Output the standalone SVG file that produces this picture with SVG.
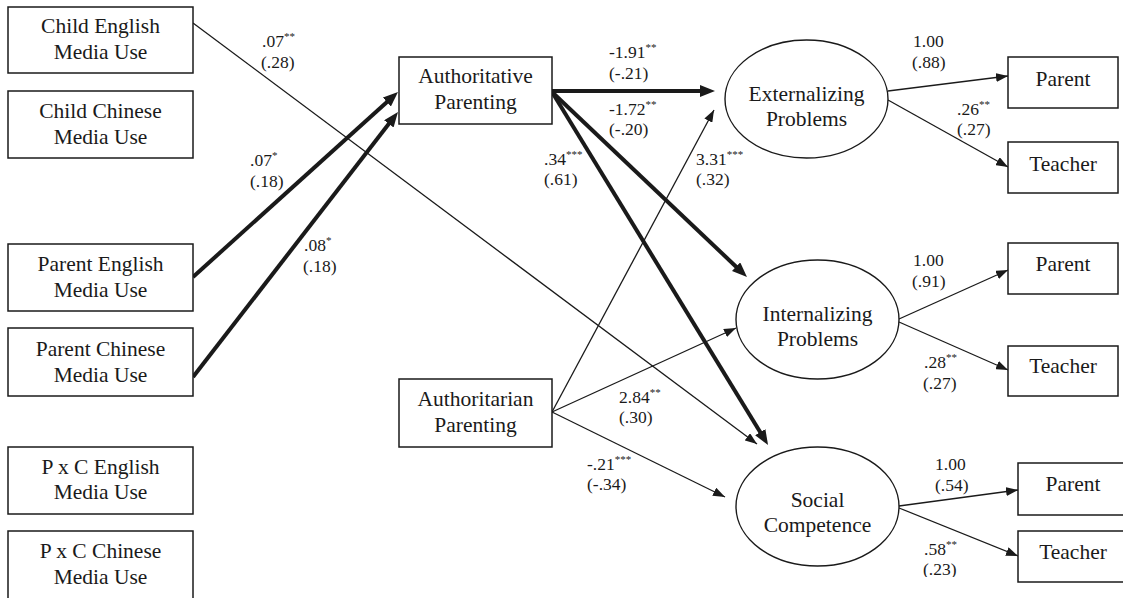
<svg xmlns="http://www.w3.org/2000/svg" width="1123" height="598" viewBox="0 0 1123 598">
<style>
.box{fill:#fff;stroke:#1a1a1a;stroke-width:1.5}
.ell{fill:#fff;stroke:#1a1a1a;stroke-width:1.4}
.nt{font-family:'Liberation Serif',Tinos,'Times New Roman','DejaVu Serif',serif;font-size:21.5px;fill:#1a1a1a;text-anchor:middle}
.lb{font-family:'Liberation Serif',Tinos,'Times New Roman','DejaVu Serif',serif;font-size:17.5px;fill:#1a1a1a}
.sup{font-size:11px}
.thin{stroke:#1a1a1a;stroke-width:1.3;fill:none;marker-end:url(#aThin)}
.thick{stroke:#1a1a1a;stroke-width:4;fill:none;marker-end:url(#aThick)}
</style>
<defs>
<marker id="aThin" markerUnits="userSpaceOnUse" markerWidth="12" markerHeight="9" refX="12" refY="4.5" orient="auto"><path d="M0,0 L12,4.5 L0,9 z" fill="#1a1a1a"/></marker>
<marker id="aThick" markerUnits="userSpaceOnUse" markerWidth="15" markerHeight="12" refX="8" refY="6" orient="auto"><path d="M0,0 L15,6 L0,12 z" fill="#1a1a1a"/></marker>
<clipPath id="clipBottom"><rect x="0" y="0" width="1123" height="577"/></clipPath>
</defs>
<rect width="1123" height="598" fill="#fff"/>

<g id="connectors">
<line class="thin" x1="193" y1="23" x2="757" y2="444"/>
<line class="thick" x1="193" y1="277" x2="392.8" y2="96.7"/>
<line class="thick" x1="193" y1="377" x2="393.7" y2="117.5"/>
<line class="thick" x1="552" y1="91" x2="708" y2="91"/>
<line class="thick" x1="552" y1="92" x2="741.9" y2="272.2"/>
<line class="thick" x1="552" y1="92" x2="764.4" y2="439"/>
<line class="thin" x1="552" y1="412" x2="714" y2="110"/>
<line class="thin" x1="552" y1="412" x2="736" y2="328"/>
<line class="thin" x1="552" y1="412" x2="725" y2="497"/>
<line class="thin" x1="888" y1="91" x2="1008" y2="76"/>
<line class="thin" x1="888" y1="100" x2="1008" y2="167"/>
<line class="thin" x1="899" y1="319" x2="1008" y2="270"/>
<line class="thin" x1="899" y1="322" x2="1008" y2="370"/>
<line class="thin" x1="899" y1="506" x2="1018" y2="490"/>
<line class="thin" x1="899" y1="508" x2="1018" y2="556"/>
</g>

<g id="labels">
<text class="lb"><tspan x="262" y="47">.07<tspan class="sup" dy="-7">**</tspan></tspan><tspan x="261" y="68">(.28)</tspan></text>
<text class="lb"><tspan x="250" y="166">.07<tspan class="sup" dy="-7">*</tspan></tspan><tspan x="250" y="187">(.18)</tspan></text>
<text class="lb"><tspan x="304" y="251">.08<tspan class="sup" dy="-7">*</tspan></tspan><tspan x="303" y="272">(.18)</tspan></text>
<text class="lb"><tspan x="609" y="58">-1.91<tspan class="sup" dy="-7">**</tspan></tspan><tspan x="609" y="79">(-.21)</tspan></text>
<text class="lb"><tspan x="609" y="115">-1.72<tspan class="sup" dy="-7">**</tspan></tspan><tspan x="609" y="135">(-.20)</tspan></text>
<text class="lb"><tspan x="544" y="165">.34<tspan class="sup" dy="-7">***</tspan></tspan><tspan x="544" y="185">(.61)</tspan></text>
<text class="lb"><tspan x="696" y="165">3.31<tspan class="sup" dy="-7">***</tspan></tspan><tspan x="696" y="185">(.32)</tspan></text>
<text class="lb"><tspan x="619" y="403">2.84<tspan class="sup" dy="-7">**</tspan></tspan><tspan x="619" y="423">(.30)</tspan></text>
<text class="lb"><tspan x="587" y="470">-.21<tspan class="sup" dy="-7">***</tspan></tspan><tspan x="587" y="490">(-.34)</tspan></text>
<text class="lb"><tspan x="913" y="47">1.00</tspan><tspan x="912" y="68">(.88)</tspan></text>
<text class="lb"><tspan x="957" y="115">.26<tspan class="sup" dy="-7">**</tspan></tspan><tspan x="957" y="135">(.27)</tspan></text>
<text class="lb"><tspan x="913" y="266">1.00</tspan><tspan x="912" y="287">(.91)</tspan></text>
<text class="lb"><tspan x="924" y="368">.28<tspan class="sup" dy="-7">**</tspan></tspan><tspan x="923" y="389">(.27)</tspan></text>
<text class="lb"><tspan x="935" y="470">1.00</tspan><tspan x="935" y="491">(.54)</tspan></text>
<text class="lb" clip-path="url(#clipBottom)"><tspan x="924" y="555">.58<tspan class="sup" dy="-7">**</tspan></tspan><tspan x="923" y="575">(.23)</tspan></text>
</g>

<g id="child-english"><rect class="box" x="8" y="7" width="185" height="66"/><text class="nt"><tspan x="100.5" y="33">Child English</tspan><tspan x="100.5" y="59">Media Use</tspan></text></g>
<g id="child-chinese"><rect class="box" x="8" y="91" width="185" height="67"/><text class="nt"><tspan x="100.5" y="118">Child Chinese</tspan><tspan x="100.5" y="144">Media Use</tspan></text></g>
<g id="parent-english"><rect class="box" x="8" y="244" width="185" height="67"/><text class="nt"><tspan x="100.5" y="271">Parent English</tspan><tspan x="100.5" y="297">Media Use</tspan></text></g>
<g id="parent-chinese"><rect class="box" x="8" y="328" width="185" height="68"/><text class="nt"><tspan x="100.5" y="356">Parent Chinese</tspan><tspan x="100.5" y="382">Media Use</tspan></text></g>
<g id="pxc-english"><rect class="box" x="8" y="447" width="185" height="67"/><text class="nt"><tspan x="100.5" y="474">P x C English</tspan><tspan x="100.5" y="499">Media Use</tspan></text></g>
<g id="pxc-chinese"><rect class="box" x="8" y="531" width="185" height="70"/><text class="nt"><tspan x="100.5" y="558">P x C Chinese</tspan><tspan x="100.5" y="584">Media Use</tspan></text></g>

<g id="authoritative"><rect class="box" x="399" y="57" width="153" height="67"/><text class="nt"><tspan x="475.5" y="83">Authoritative</tspan><tspan x="475.5" y="109">Parenting</tspan></text></g>
<g id="authoritarian"><rect class="box" x="399" y="379" width="153" height="68"/><text class="nt"><tspan x="475.5" y="406">Authoritarian</tspan><tspan x="475.5" y="432">Parenting</tspan></text></g>

<g id="externalizing"><ellipse class="ell" cx="806.5" cy="99" rx="81.5" ry="59"/><text class="nt"><tspan x="806.5" y="101">Externalizing</tspan><tspan x="806.5" y="126">Problems</tspan></text></g>
<g id="internalizing"><ellipse class="ell" cx="817.5" cy="319.5" rx="81.5" ry="59.5"/><text class="nt"><tspan x="817.5" y="321">Internalizing</tspan><tspan x="817.5" y="346">Problems</tspan></text></g>
<g id="social"><ellipse class="ell" cx="817.5" cy="506.5" rx="81.5" ry="59.5"/><text class="nt"><tspan x="817.5" y="507">Social</tspan><tspan x="817.5" y="532">Competence</tspan></text></g>

<g id="ext-parent"><rect class="box" x="1008" y="57" width="110" height="51"/><text class="nt" x="1063" y="86">Parent</text></g>
<g id="ext-teacher"><rect class="box" x="1008" y="142" width="110" height="51"/><text class="nt" x="1063" y="171">Teacher</text></g>
<g id="int-parent"><rect class="box" x="1008" y="243" width="110" height="51"/><text class="nt" x="1063" y="271">Parent</text></g>
<g id="int-teacher"><rect class="box" x="1008" y="346" width="110" height="50"/><text class="nt" x="1063" y="373">Teacher</text></g>
<g id="soc-parent"><rect class="box" x="1018" y="463" width="110" height="52"/><text class="nt" x="1073" y="491">Parent</text></g>
<g id="soc-teacher"><rect class="box" x="1018" y="531" width="110" height="51"/><text class="nt" x="1073" y="559">Teacher</text></g>
</svg>
